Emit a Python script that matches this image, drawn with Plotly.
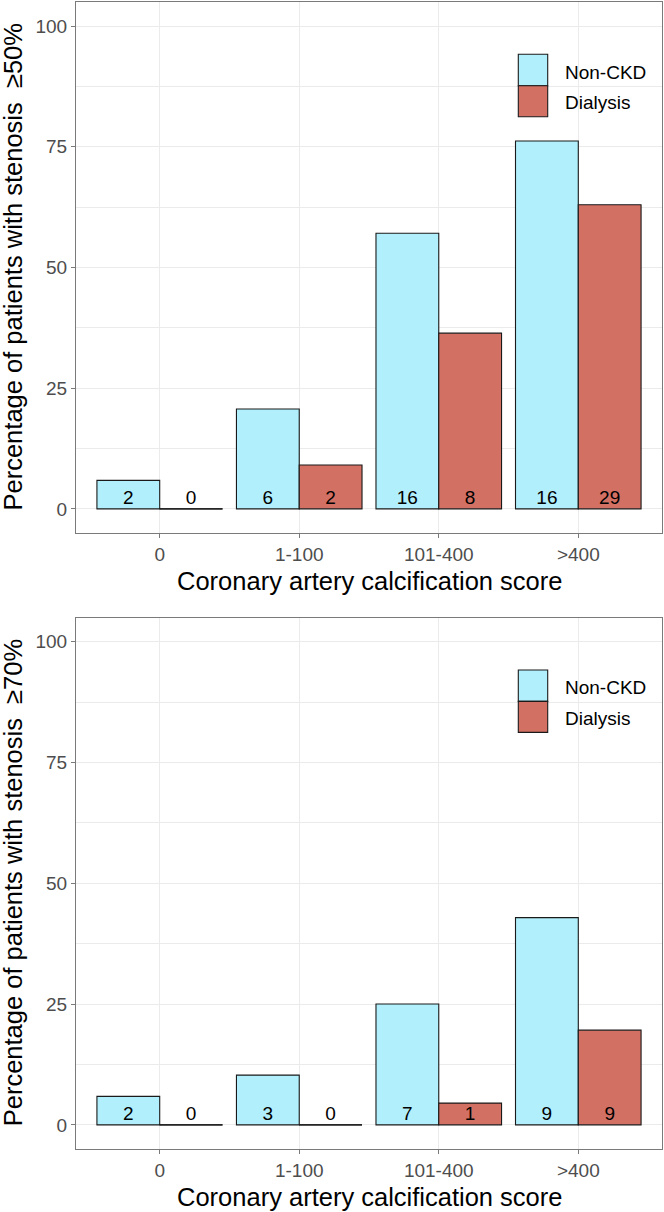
import plotly.graph_objects as go

# ---- data ----
categories = ["0", "1-100", "101-400", ">400"]
groups = ["Non-CKD", "Dialysis"]
pct50_nonckd = [5.9, 20.7, 57.1, 76.2]
pct50_dialysis = [0.0, 9.1, 36.4, 63.0]
n50_nonckd = [2, 6, 16, 16]
n50_dialysis = [0, 2, 8, 29]
pct70_nonckd = [5.9, 10.3, 25.0, 42.9]
pct70_dialysis = [0.0, 0.0, 4.5, 19.6]
n70_nonckd = [2, 3, 7, 9]
n70_dialysis = [0, 0, 1, 9]
y_titles = ["Percentage of patients with stenosis\u00a0\u00a0\u226550%",
            "Percentage of patients with stenosis\u00a0\u00a0\u226570%"]
x_title = "Coronary artery calcification score"

# ---- style ----
W, H = 664, 1212
col_nonckd = "#B0EFFB"
col_dial = "#D37064"
grid_col = "#EBEBEB"
border_col = "#7A7A7A"
tick_col = "#4D4D4D"
FONT = "Arial, Liberation Sans, sans-serif"
BW = 0.45  # bar width (category units)

panels = [
    dict(top=2, bottom=533, vals=(pct50_nonckd, pct50_dialysis), ns=(n50_nonckd, n50_dialysis)),
    dict(top=617.6, bottom=1149, vals=(pct70_nonckd, pct70_dialysis), ns=(n70_nonckd, n70_dialysis)),
]
px_left, px_right = 76, 662

fig = go.Figure()
idx = list(range(len(categories)))
shapes = []
annotations = []

for p, panel in enumerate(panels):
    xa = "x" if p == 0 else "x2"
    ya = "y" if p == 0 else "y2"
    nonckd, dial = panel["vals"]
    n_nonckd, n_dial = panel["ns"]
    offsets = (-BW / 2, BW / 2)
    for g, (vals, ns, col, off) in enumerate(zip((nonckd, dial), (n_nonckd, n_dial),
                                                    (col_nonckd, col_dial), offsets)):
        xs = [i + off for i in idx]
        fig.add_trace(go.Bar(
            x=xs, y=vals, width=BW, marker=dict(color=col, line=dict(color="#1a1a1a", width=1.1)),
            name=groups[g], showlegend=False, xaxis=xa, yaxis=ya, hoverinfo="skip"))
        # outline for zero-height bars
        for x, v in zip(xs, vals):
            if v == 0:
                fig.add_trace(go.Scatter(
                    x=[x - BW / 2, x + BW / 2], y=[v, v], mode="lines",
                    line=dict(color="#1a1a1a", width=1.3), showlegend=False,
                    xaxis=xa, yaxis=ya, hoverinfo="skip"))
        fig.add_trace(go.Scatter(
            x=xs, y=[2.0] * len(xs), mode="text", text=[str(n) for n in ns],
            textposition="middle center", textfont=dict(family=FONT, size=19, color="black"),
            showlegend=False, xaxis=xa, yaxis=ya, hoverinfo="skip"))

    xref_d = ("x" if p == 0 else "x2") + " domain"
    yref_d = ("y" if p == 0 else "y2") + " domain"
    pw = px_right - px_left

    def fx(px):
        return (px - px_left) / pw

    def fy(py):
        return 1 - (py - 2) / (533 - 2)

    # legend background
    shapes.append(dict(type="rect", xref=xref_d, yref=yref_d, x0=fx(508), x1=fx(659),
                       y0=fy(127), y1=fy(7), fillcolor="white", line=dict(width=0), layer="below"))
    key_tops = [54.3, 85.7]
    key_bots = [85.7, 116.7]
    text_y = [72.3, 102.7]
    for g, col in enumerate((col_nonckd, col_dial)):
        shapes.append(dict(type="rect", xref=xref_d, yref=yref_d, x0=fx(518.3), x1=fx(547.7),
                           y0=fy(key_bots[g]), y1=fy(key_tops[g]), fillcolor=col,
                           line=dict(color="#1a1a1a", width=1.1), layer="above"))
        annotations.append(dict(text=groups[g], xref=xref_d, yref=yref_d, x=fx(563.3),
                                y=fy(text_y[g]), xanchor="left", yanchor="middle", showarrow=False,
                                font=dict(family=FONT, size=19, color="black")))
    # axis titles
    annotations.append(dict(text=x_title, xref="paper", yref="paper",
                            x=((px_left + px_right) / 2) / W,
                            y=1 - (panel["bottom"] + 47.5) / H, xanchor="center", yanchor="middle",
                            showarrow=False, font=dict(family=FONT, size=25.5, color="black")))
    annotations.append(dict(text=y_titles[p], xref="paper", yref="paper", x=13 / W,
                            y=1 - ((panel["top"] + panel["bottom"]) / 2) / H, xanchor="center",
                            yanchor="middle", textangle=-90, showarrow=False,
                            font=dict(family=FONT, size=25.5, color="black")))

common_x = dict(range=[-0.6, 3.6], tickvals=idx, ticktext=categories, showgrid=True,
                gridcolor=grid_col, gridwidth=1.2, zeroline=False, showline=True, linecolor=border_col,
                linewidth=1.2, mirror=True, ticks="outside", ticklen=4, tickcolor=border_col,
                tickwidth=1.1, tickfont=dict(family=FONT, size=19, color=tick_col),
                domain=[px_left / W, px_right / W], fixedrange=True)
common_y = dict(range=[-5, 105], tickvals=[0, 25, 50, 75, 100], showgrid=True, gridcolor=grid_col,
                gridwidth=1.2, zeroline=False, showline=True, linecolor=border_col, linewidth=1.2,
                mirror=True, ticks="outside", ticklen=4, tickcolor=border_col, tickwidth=1.1,
                tickfont=dict(family=FONT, size=19, color=tick_col),
                minor=dict(tickvals=[12.5, 37.5, 62.5, 87.5], showgrid=True, gridcolor=grid_col,
                           gridwidth=0.7, ticks=""),
                fixedrange=True)

fig.update_layout(
    width=W, height=H, margin=dict(l=0, r=0, t=0, b=0, autoexpand=False),
    paper_bgcolor="white", plot_bgcolor="white", barmode="overlay",
    xaxis=dict(common_x, anchor="y"),
    yaxis=dict(common_y, anchor="x", domain=[1 - 533 / H, 1 - 2 / H]),
    xaxis2=dict(common_x, anchor="y2"),
    yaxis2=dict(common_y, anchor="x2", domain=[1 - 1149 / H, 1 - 617.6 / H]),
    shapes=shapes, annotations=annotations, showlegend=False,
    font=dict(family=FONT),
)

fig.write_html("out.html", config={"displayModeBar": False},
               post_script="document.body.style.margin='0';document.body.style.overflow='hidden';")
